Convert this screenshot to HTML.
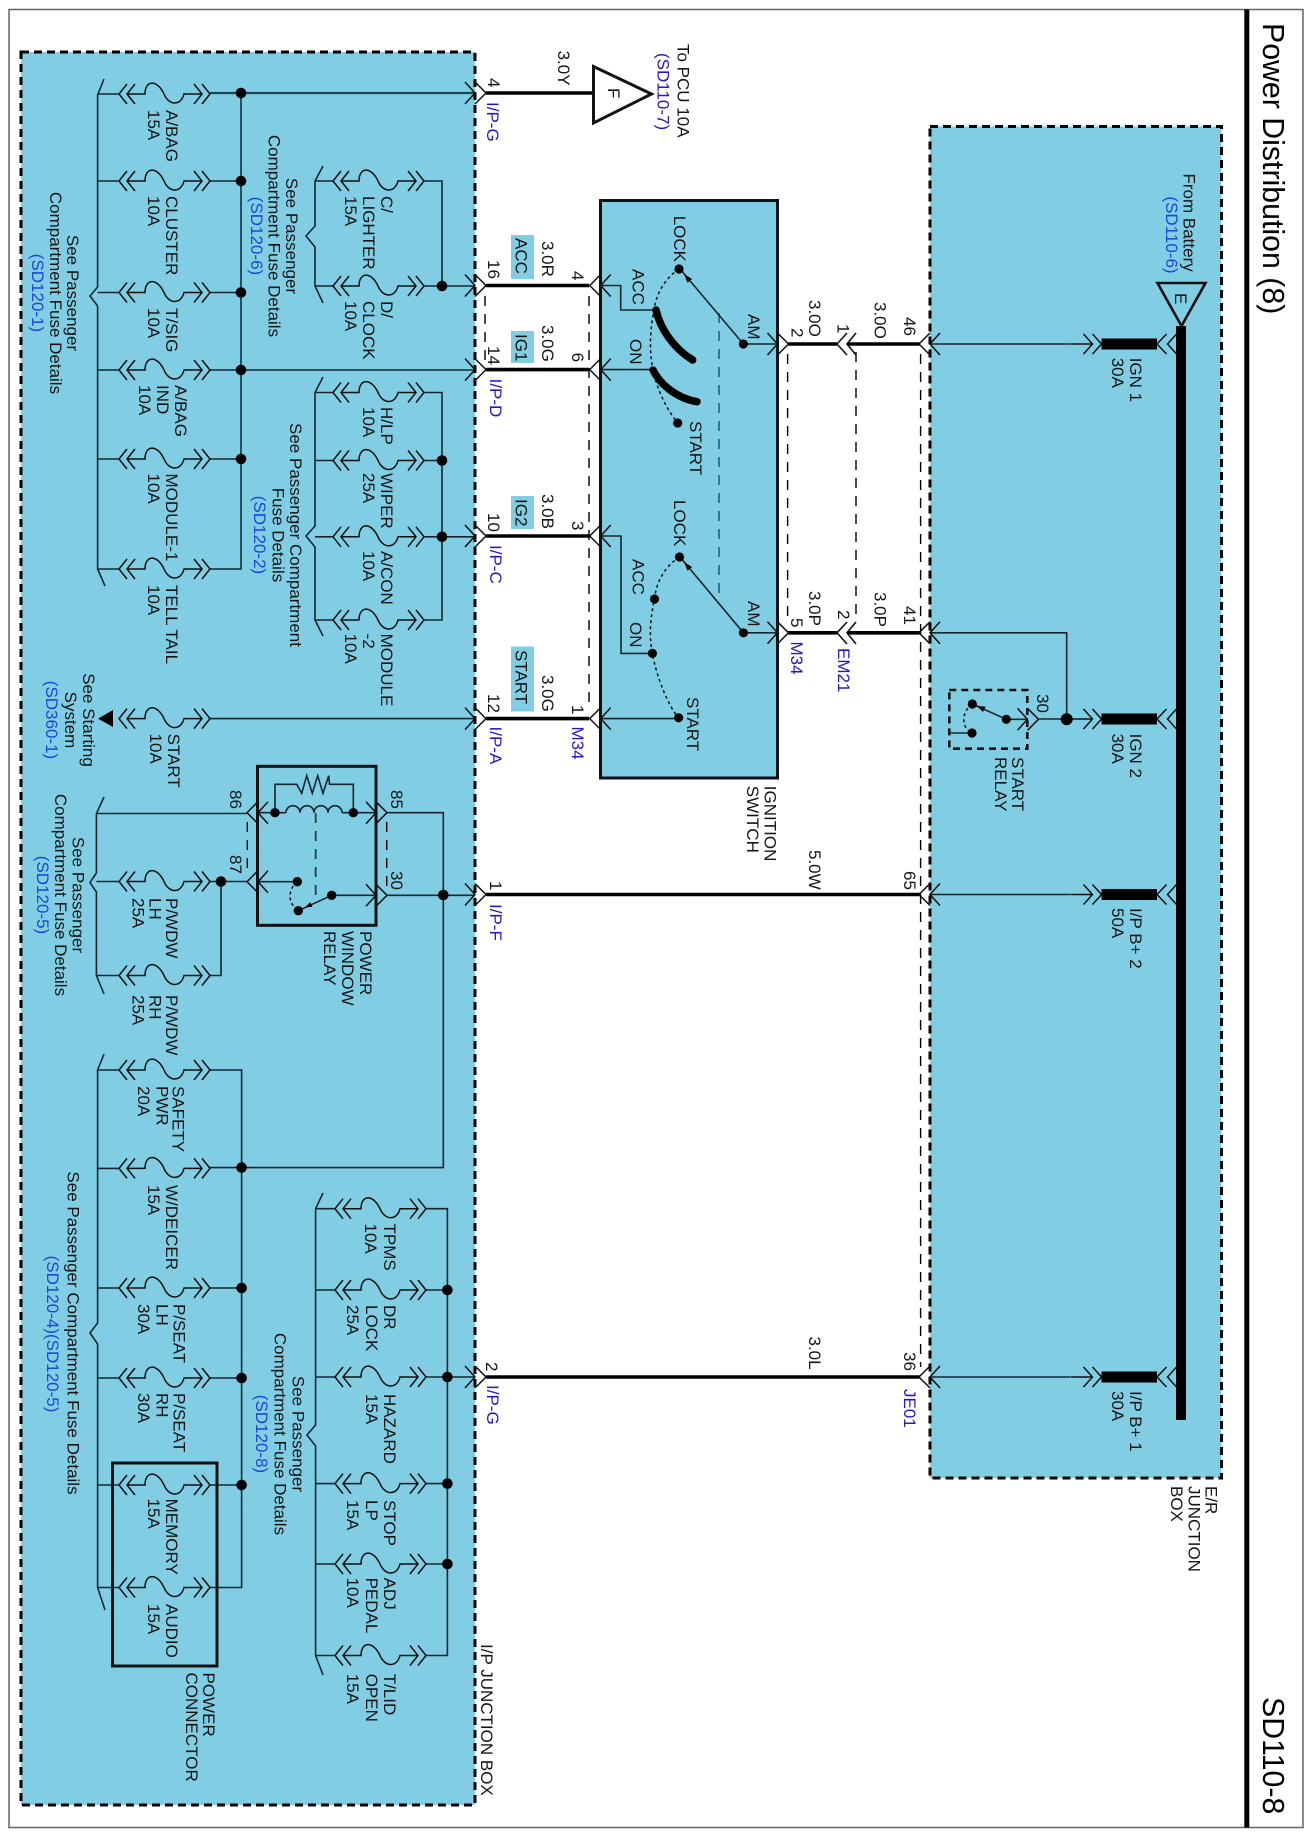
<!DOCTYPE html>
<html><head><meta charset="utf-8"><title>Power Distribution (8)</title>
<style>
html,body{margin:0;padding:0;background:#fff}
svg{display:block}
text{font-family:"Liberation Sans",sans-serif;font-size:17px;fill:#151515}
.b{fill:#2418c4}.l{fill:#1c46dc}
.m{text-anchor:middle}
.t{font-size:30.3px;fill:#000}
</style></head><body>
<svg xmlns="http://www.w3.org/2000/svg" width="1311" height="1836" viewBox="0 0 1311 1836">
<defs>
<g id="f" fill="none" stroke="#111" stroke-width="1.5">
<path d="M8,-10L0,0L8,10M16,-10L8,0L16,10M8,0H26C26,-14 38,-15 45,0C50,12 62,12 65,0H83M75,-10L83,0L75,10M83,-10L91,0L83,10"/>
</g>
<g id="cr" stroke="#111" stroke-width="1.5" fill="none">
<path d="M0,-11L11,0L0,11"/><path d="M-10,-11L0,0L-10,11"/>
</g>
<g id="cl" stroke="#111" stroke-width="1.5" fill="none">
<path d="M0,-11L-11,0L0,11"/><path d="M10,-11L0,0L10,11"/>
</g>
<g id="er" fill="none" stroke="#111" stroke-width="1.5">
<path d="M-9,-10L0,0L-9,10M0,-10L9,0L0,10M-22,0H0"/>
<path d="M9,-5.5H64.5V5.5H9Z" fill="#000" stroke="none"/>
<path d="M74,-10L64.5,0L74,10"/><path d="M84,-10L75,0L84,10"/>
</g>
</defs>

<rect width="1311" height="1836" fill="#fff"/>
<rect x="9" y="9.5" width="1294" height="1818" fill="none" stroke="#666" stroke-width="1.5"/>
<rect x="1244.3" y="9.5" width="5" height="1818" fill="#000"/>

<!-- boxes -->
<rect x="21" y="52" width="454" height="1753" fill="#81cde3" stroke="#000" stroke-width="3" stroke-dasharray="8 5"/>
<rect x="930" y="126.5" width="291.5" height="1351.5" fill="#81cde3" stroke="#000" stroke-width="3" stroke-dasharray="8 5"/>
<rect x="600.5" y="200.5" width="177" height="577.5" fill="#81cde3" stroke="#111" stroke-width="3"/>
<rect x="511" y="235" width="23" height="44" fill="#81cde3"/>
<rect x="511" y="331" width="23" height="32" fill="#81cde3"/>
<rect x="511" y="496" width="23" height="33" fill="#81cde3"/>
<rect x="511" y="646.5" width="23" height="65" fill="#81cde3"/>

<!-- dashed wires -->
<g fill="none" stroke="#000" stroke-width="1.4" stroke-dasharray="10 8">
<path d="M485,296V362M589,296V710M787.6,354V624M856,352V622M920.6,354V1367M247.3,822V872M386.7,822V886"/>
<path d="M719,313V593" stroke="#2e6b80" stroke-width="1.8"/>
<path d="M315.7,813V902" stroke-width="1.8" stroke="#1c4250"/>
</g>

<!-- thick wires -->
<g fill="none" stroke="#000" stroke-width="3.6">
<path d="M486,93H594M486,285.5H589M486,369.6H589M486,536H589M486,718.6H589M486,894.5H920M486,1377H920M788,344H837M847,344H920M788,632.8H837M847,632.8H920"/>
</g>

<!-- thin wires -->
<g fill="none" stroke="#16262e" stroke-width="1.6">
<path d="M104,79L97.6,95V287L90,296L97.6,306V569L105,586"/>
<path d="M97.6,94H119M97.6,181H119M97.6,292.5H119M97.6,370H119M97.6,459H119M97.6,569H119"/>
<path d="M241,93V569H210" stroke="#25505f" stroke-width="2"/>
<path d="M210,93H475" stroke="#1d4452" stroke-width="2.3"/>
<path d="M210,181H241M210,292.5H241M210,370H475M210,459H241"/>
<path d="M323,166L315,181V226L306,236L315,247V286L323,303"/>
<path d="M315,181H333M315,286H333M424,181H442V286M424,286H475"/>
<path d="M323,377L315,392.5V526L306,536L315,547V620L323,636"/>
<path d="M315,392.5H333M315,460.5H333M315,536.8H333M315,620H333"/>
<path d="M424,392.5H442V620H424M424,460.5H442M424,536.8H475"/>
<path d="M210,718.6H475"/>
<path d="M104,797L96.4,813.5V873L90,882.6L96.4,892V975.5L104,994"/>
<path d="M96.4,813.5H247M96.4,881.5H119M96.4,975.5H119M210,881.5H247M210,975.5H221V881.5"/>
<path d="M387,812.7H443.3V1167.6H210M387,895.3H475"/>
<path d="M104,1054L97.6,1070V1323L90,1333L97.6,1344V1587.5L105,1610"/>
<path d="M97.6,1070H119M97.6,1168.4H119M97.6,1288H119M97.6,1378H119M97.6,1485H119M97.6,1587.5H119"/>
<path d="M210,1070H241.6V1587.5H210M210,1288H241.6M210,1378H241.6M210,1485H241.6"/>
<path d="M323,1193L315.6,1208.7V1425L307,1435L315.6,1446V1655.5L323,1675"/>
<path d="M315.6,1208.7H335M315.6,1290H335M315.6,1377H335M315.6,1483.6H335M315.6,1564H335M315.6,1655.5H335"/>
<path d="M426,1208.7H447.4V1655.5H426M426,1290H447.4M426,1377H475M426,1483.6H447.4M426,1564H447.4"/>
<!-- switch wires -->
<path d="M601,285.5H620.7V310H654.5M601,369.6H653M601,536H621V653.4H652.4M601,718.6H678"/>
<path d="M743.4,344H777M743.4,632.8H777M930,344H1070M930,632.8H1066.7V719M930,894.5H1070M930,1377H1070"/>
<path d="M743.4,344L680,269M743.4,632.8L680,557M1006.3,719.3H1028M1037,719H1070M1006.3,719.3L972.3,704M972,733H950.7"/>
<path d="M257.5,812.7H286M342.3,812.7H376M257.5,881.7H297.3M331.7,895.3H376M331.7,895.3L298.3,910.7"/>
<path d="M275,812.7V784.3H296.7L301.7,793.3L306.7,775.7L312.3,793.3L317.7,775.7L323,793.3L328.7,775.7L329.5,784.3H353.3V812.7"/>
<path d="M286,812.7a7,7 0 0 1 14,0a7,7 0 0 1 14,0a7,7 0 0 1 14,0a7,7 0 0 1 14,0"/>
</g>

<!-- dotted arcs -->
<g fill="none" stroke="#111" stroke-width="1.5" stroke-dasharray="3 3">
<path d="M679,269C664,279 656,295 654,310C650,330 649,350 653,370C657,390 668,412 678,423"/>
<path d="M679.5,557C664,567 656,583 654.5,599C650,620 649,636 652.4,653.4C656,675 668,706 678.6,717.8"/>
<path d="M972.3,704C961,712 961,728 972,733"/>
<path d="M297.3,881.7C287,890 288,904 298.3,910.7"/>
</g>

<!-- switch contacts -->
<g fill="none" stroke="#000" stroke-width="7.5" stroke-linecap="round">
<path d="M656,310C660,328 673,348 692.7,360"/>
<path d="M653,370C660,384 676,398 697,401.7"/>
</g>

<!-- fuses -->
<use href="#f" x="119" y="94"/><use href="#f" x="119" y="181"/><use href="#f" x="119" y="292.5"/>
<use href="#f" x="119" y="370"/><use href="#f" x="119" y="459"/><use href="#f" x="119" y="569"/>
<use href="#f" x="119" y="718.6"/><use href="#f" x="119" y="881.5"/><use href="#f" x="119" y="975.5"/>
<use href="#f" x="119" y="1070"/><use href="#f" x="119" y="1168.4"/><use href="#f" x="119" y="1288"/>
<use href="#f" x="119" y="1378"/><use href="#f" x="119" y="1485"/><use href="#f" x="119" y="1587.5"/>
<use href="#f" x="333" y="181"/><use href="#f" x="333" y="286"/><use href="#f" x="333" y="392.5"/>
<use href="#f" x="333" y="460.5"/><use href="#f" x="333" y="536.8"/><use href="#f" x="333" y="620"/>
<use href="#f" x="335" y="1208.7"/><use href="#f" x="335" y="1290"/><use href="#f" x="335" y="1377"/>
<use href="#f" x="335" y="1483.6"/><use href="#f" x="335" y="1564"/><use href="#f" x="335" y="1655.5"/>

<!-- connectors -->
<use href="#cr" x="475" y="93"/><use href="#cr" x="475" y="285.5"/><use href="#cr" x="475" y="369.6"/>
<use href="#cr" x="475" y="536"/><use href="#cr" x="475" y="718.6"/><use href="#cr" x="475" y="894.5"/>
<use href="#cr" x="475" y="1377"/>
<use href="#cl" x="600.7" y="285.5"/><use href="#cl" x="600.7" y="369.6"/><use href="#cl" x="600.7" y="536"/><use href="#cl" x="600.7" y="718.6"/>
<use href="#cr" x="777.5" y="344"/><use href="#cr" x="777.5" y="632.8"/>
<use href="#cl" x="930" y="344"/><use href="#cl" x="930" y="632.8"/><use href="#cl" x="930" y="894.5"/><use href="#cl" x="930" y="1377"/>
<use href="#cl" x="258" y="812.7"/><use href="#cl" x="258" y="881.7"/>
<use href="#cr" x="376" y="812.7"/><use href="#cr" x="376" y="895.3"/>
<use href="#cr" x="1027.5" y="719.3"/>
<g fill="none" stroke="#111" stroke-width="1.6">
<path d="M847,333L837,344L847,355M856,333L847,344L856,355M847,622L837,632.8L847,644M856,622L847,632.8L856,644"/>
</g>
<use href="#er" x="1092.5" y="344"/><use href="#er" x="1092.5" y="719"/><use href="#er" x="1092.5" y="894.5"/><use href="#er" x="1092.5" y="1377"/>

<!-- bus bar & triangles -->
<rect x="1176" y="326" width="10" height="1094" fill="#000"/>
<path d="M1157.5,283H1205.5L1181.5,326Z" fill="none" stroke="#111" stroke-width="2.6"/>
<path d="M593.5,66.5V123L651.5,94Z" fill="#fff" stroke="#111" stroke-width="3"/>
<path d="M113,710V727L98,718.6Z" fill="#000"/>

<!-- relay boxes -->
<rect x="257.5" y="766.3" width="118.5" height="159" fill="none" stroke="#111" stroke-width="3"/>
<rect x="112.5" y="1463" width="104.5" height="203" fill="none" stroke="#111" stroke-width="3"/>
<rect x="949.3" y="690" width="78" height="58.7" fill="none" stroke="#111" stroke-width="2.6" stroke-dasharray="7 5"/>

<!-- dots -->
<g fill="#000">
<circle cx="241" cy="93" r="5.3"/><circle cx="241" cy="181" r="5.3"/><circle cx="241" cy="292.5" r="5.3"/><circle cx="241" cy="370" r="5.3"/><circle cx="241" cy="459" r="5.3"/>
<circle cx="442" cy="286" r="5.3"/><circle cx="442" cy="460.5" r="5.3"/><circle cx="442" cy="536.8" r="5.3"/>
<circle cx="221" cy="881.5" r="5.3"/><circle cx="443.3" cy="895" r="5.3"/>
<circle cx="241.6" cy="1167.6" r="5.3"/><circle cx="241.6" cy="1288" r="5.3"/><circle cx="241.6" cy="1378" r="5.3"/><circle cx="241.6" cy="1485" r="5.3"/>
<circle cx="447.4" cy="1290" r="5.3"/><circle cx="447.4" cy="1377" r="5.3"/><circle cx="447.4" cy="1483.6" r="5.3"/><circle cx="447.4" cy="1564" r="5.3"/>
<circle cx="1066.7" cy="719.3" r="6"/>
<circle cx="275" cy="812.7" r="4.7"/><circle cx="353.3" cy="812.7" r="4.7"/><circle cx="297.3" cy="881.7" r="4.7"/><circle cx="298.3" cy="910.7" r="4.7"/><circle cx="331.7" cy="895.3" r="4.7"/>
<circle cx="679" cy="269" r="4.6"/><circle cx="743.4" cy="344" r="4.6"/><circle cx="677.7" cy="423" r="4.6"/>
<circle cx="679.5" cy="557" r="4.6"/><circle cx="743.4" cy="632.8" r="4.6"/><circle cx="654.5" cy="599" r="4.6"/><circle cx="652.4" cy="653.4" r="4.6"/><circle cx="678.6" cy="717.8" r="4.6"/>
<circle cx="972.3" cy="704" r="4.6"/><circle cx="1006.3" cy="719.3" r="4.6"/><circle cx="972" cy="733" r="4.6"/>
<polygon points="684,274 692,279 687.5,282.8"/><polygon points="684,562 692,567 687.5,570.8"/>
<polygon points="977,706 985.5,706.6 983,712"/><polygon points="305,907.5 312.4,906.8 310.2,902.2"/>
</g>

<!-- text: x = page Y, y = -page X -->
<g transform="rotate(90)">
<text class="t" x="23" y="-1263">Power Distribution (8)</text>
<text class="t" x="1697" y="-1263">SD110-8</text>

<!-- left fuses -->
<text x="110" y="-166">A/BAG</text><text x="110" y="-148">15A</text>
<text x="196" y="-166">CLUSTER</text><text x="196" y="-148">10A</text>
<text x="308" y="-166">T/SIG</text><text x="308" y="-148">10A</text>
<text x="385" y="-175">A/BAG</text><text x="385" y="-157">IND</text><text x="385" y="-139">10A</text>
<text x="473.5" y="-166">MODULE-1</text><text x="473.5" y="-148">10A</text>
<text x="585" y="-166">TELL TAIL</text><text x="585" y="-148">10A</text>
<text x="196" y="-381">C/</text><text x="196" y="-363">LIGHTER</text><text x="196" y="-345">15A</text>
<text x="301" y="-381">D/</text><text x="301" y="-363">CLOCK</text><text x="301" y="-345">10A</text>
<text x="407" y="-381">H/LP</text><text x="407" y="-363">10A</text>
<text x="473" y="-381">WIPER</text><text x="473" y="-363">25A</text>
<text x="551" y="-381">A/CON</text><text x="551" y="-363">10A</text>
<text x="633.6" y="-381">MODULE</text><text x="633.6" y="-363">-2</text><text x="633.6" y="-345">10A</text>
<text x="733.6" y="-168">START</text><text x="733.6" y="-150">10A</text>
<text x="898" y="-166">P/WDW</text><text x="898" y="-149.5">LH</text><text x="898" y="-132.5">25A</text>
<text x="995" y="-166">P/WDW</text><text x="995" y="-149.5">RH</text><text x="995" y="-132.5">25A</text>
<text x="1086" y="-172.6">SAFETY</text><text x="1086" y="-156.6">PWR</text><text x="1086" y="-138">20A</text>
<text x="1185" y="-166">W/DEICER</text><text x="1185" y="-148">15A</text>
<text x="1304" y="-173.4">P/SEAT</text><text x="1304" y="-156.6">LH</text><text x="1304" y="-138">30A</text>
<text x="1393" y="-173.4">P/SEAT</text><text x="1393" y="-156.6">RH</text><text x="1393" y="-138">30A</text>
<text x="1498.6" y="-166">MEMORY</text><text x="1498.6" y="-148">15A</text>
<text x="1604" y="-166">AUDIO</text><text x="1604" y="-148">15A</text>
<text x="1223.5" y="-384">TPMS</text><text x="1223.5" y="-365">10A</text>
<text x="1305" y="-384">DR</text><text x="1305" y="-366">LOCK</text><text x="1305" y="-347">25A</text>
<text x="1394" y="-384">HAZARD</text><text x="1394" y="-366">15A</text>
<text x="1500" y="-384">STOP</text><text x="1500" y="-366">LP</text><text x="1500" y="-347">15A</text>
<text x="1577.6" y="-384">ADJ</text><text x="1577.6" y="-366">PEDAL</text><text x="1577.6" y="-347">10A</text>
<text x="1673.7" y="-384">T/LID</text><text x="1673.7" y="-366">OPEN</text><text x="1673.7" y="-347">15A</text>

<!-- see passenger notes -->
<text class="m" x="293" y="-67">See Passenger</text><text class="m" x="293" y="-50">Compartment Fuse Details</text><text class="m l" x="293" y="-32">(SD120-1)</text>
<text class="m" x="236" y="-286">See Passenger</text><text class="m" x="236" y="-268.5">Compartment Fuse Details</text><text class="m l" x="236" y="-251">(SD120-6)</text>
<text class="m" x="535" y="-290">See Passenger Compartment</text><text class="m" x="535" y="-272.7">Fuse Details</text><text class="m l" x="535" y="-254">(SD120-2)</text>
<text class="m" x="720" y="-83">See Starting</text><text class="m" x="720" y="-65">System</text><text class="m l" x="720" y="-46">(SD360-1)</text>
<text class="m" x="895" y="-72.5">See Passenger</text><text class="m" x="895" y="-55">Compartment Fuse Details</text><text class="m l" x="895" y="-37">(SD120-5)</text>
<text class="m" x="1333" y="-67.5">See Passenger Compartment Fuse Details</text><text class="m l" x="1334" y="-47">(SD120-4)(SD120-5)</text>
<text class="m" x="1434" y="-292.5">See Passenger</text><text class="m" x="1434" y="-274.5">Compartment Fuse Details</text><text class="m l" x="1434" y="-256">(SD120-8)</text>

<!-- relay -->
<text x="790" y="-230">86</text><text x="855" y="-230">87</text><text x="790" y="-391">85</text><text x="871" y="-391">30</text>
<text x="931" y="-360">POWER</text><text x="931" y="-342">WINDOW</text><text x="931" y="-324">RELAY</text>
<text x="1672.5" y="-203">POWER</text><text x="1672.5" y="-186">CONNECTOR</text>
<text x="1644" y="-481">I/P JUNCTION BOX</text>

<!-- top connectors -->
<text x="78" y="-488">4</text><text class="b" x="102" y="-487">I/P-G</text>
<text x="50.6" y="-558">3.0Y</text>
<text x="88" y="-608">F</text>
<text x="44" y="-677.5">To PCU 10A</text><text class="b" x="53" y="-657.5">(SD110-7)</text>

<text x="260" y="-488">16</text><text x="238" y="-515.5">ACC</text><text x="241" y="-542">3.0R</text><text x="271" y="-572">4</text>
<text x="346" y="-488">14</text><text x="334" y="-515.5">IG1</text><text x="325" y="-542">3.0G</text><text x="352.6" y="-572">6</text>
<text class="b" x="378.6" y="-490">I/P-D</text>
<text x="513" y="-488">10</text><text x="499" y="-515.5">IG2</text><text x="494" y="-542">3.0B</text><text x="521" y="-572">3</text>
<text class="b" x="545" y="-490">I/P-C</text>
<text x="694" y="-488">12</text><text x="650" y="-515.5">START</text><text x="675" y="-542">3.0G</text><text x="705" y="-572">1</text>
<text class="b" x="726.5" y="-490">I/P-A</text><text class="b" x="726.5" y="-572">M34</text>
<text x="881" y="-490">1</text><text class="b" x="904" y="-490">I/P-F</text>
<text x="1362" y="-486">2</text><text class="b" x="1385" y="-487">I/P-G</text>

<!-- ignition switch -->
<text x="269" y="-632.6">ACC</text><text x="339" y="-630">ON</text>
<text x="559" y="-632.6">ACC</text><text x="622" y="-630">ON</text>
<text x="215.7" y="-674">LOCK</text><text x="500" y="-674">LOCK</text>
<text x="421" y="-690">START</text><text x="697" y="-687">START</text>
<text x="314" y="-748">AM</text><text x="601" y="-748">AM</text>
<text x="785.8" y="-764.5">IGNITION</text><text x="785.8" y="-747">SWITCH</text>

<!-- middle -->
<text x="328" y="-791.5">2</text><text x="300" y="-809">3.0O</text><text x="324" y="-837.5">1</text><text x="302" y="-874.5">3.0O</text><text x="317" y="-904">46</text>
<text x="618" y="-791">5</text><text x="591" y="-809">3.0P</text><text x="610" y="-838">2</text><text x="592" y="-874.5">3.0P</text><text x="606" y="-904">41</text>
<text class="b" x="641.5" y="-791">M34</text><text class="b" x="648" y="-838">EM21</text>
<text x="871" y="-904">65</text><text x="850" y="-809">5.0W</text>
<text x="1352" y="-904">36</text><text class="b" x="1389" y="-904">JE01</text><text x="1336.5" y="-809">3.0L</text>

<!-- E/R box -->
<text x="173.5" y="-1183.5">From Battery</text><text class="m l" x="235" y="-1166">(SD110-6)</text>
<text x="293" y="-1175">E</text>
<text x="357.7" y="-1130">IGN 1</text><text x="357.7" y="-1112">30A</text>
<text x="733.6" y="-1130">IGN 2</text><text x="733.6" y="-1112">30A</text>
<text x="908" y="-1130">I/P B+ 2</text><text x="908" y="-1112">50A</text>
<text x="1391" y="-1130">I/P B+ 1</text><text x="1391" y="-1112">30A</text>
<text x="694" y="-1037">30</text>
<text x="757" y="-1012">START</text><text x="757" y="-995">RELAY</text>
<text x="1486" y="-1205.5">E/R</text><text x="1486" y="-1188.7">JUNCTION</text><text x="1486" y="-1171">BOX</text>
</g>
</svg>
</body></html>
